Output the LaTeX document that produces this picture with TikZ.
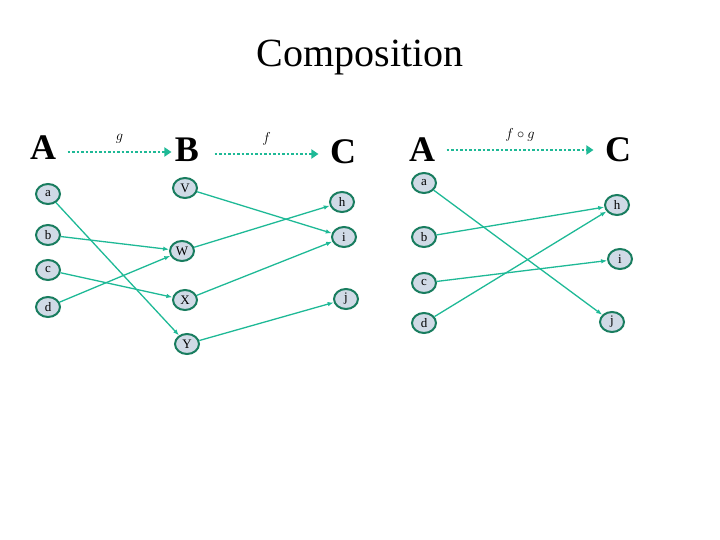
\documentclass[tikz,border=0pt]{standalone}
\usepackage{fontspec}
\setmainfont{Liberation Serif}
\usetikzlibrary{arrows.meta,shapes.geometric}
\definecolor{teal1}{RGB}{30,185,150}
\definecolor{ring}{RGB}{25,125,95}
\definecolor{pale}{RGB}{208,218,230}
\begin{document}
\begin{tikzpicture}[x=1pt,y=-1pt,
  elem/.style={ellipse,draw=ring,line width=2pt,fill=pale,minimum width=24pt,minimum height=20pt,inner sep=0pt,font=\fontsize{13}{13}\selectfont},
  set/.style={font=\fontsize{36}{36}\selectfont\bfseries},
  map/.style={draw=teal1,line width=1.3pt,-{Latex[length=6pt]}},
  fun/.style={draw=teal1,line width=2.5pt,dotted,-{Triangle[length=7pt,width=9pt]}}]
  \useasboundingbox (0,0) rectangle (720,540);
  \node[font=\fontsize{40}{40}\selectfont] (title) at (360,58) {Composition};
  % left: A --g--> B --f--> C
  \node[set] (A) at (43,148) {A};
  \node[set] (B) at (187,150) {B};
  \node[set] (C) at (343,152) {C};
  \draw[fun] (A.east) ++(8,4) coordinate (g0) -- (B.west |- g0) node[midway,above=4pt,font=\Large] {$g$};
  \draw[fun] (B.east) ++(12,4) coordinate (f0) -- ([xshift=-8pt]C.west |- f0) node[midway,above=4pt,font=\Large] {$f$};
  \node[elem] (a) at (48,194) {a};
  \node[elem] (b) at (48,235) {b};
  \node[elem] (c) at (48,270) {c};
  \node[elem] (d) at (48,307) {d};
  \node[elem] (V) at (185,188) {V};
  \node[elem] (W) at (182,251) {W};
  \node[elem] (X) at (185,300) {X};
  \node[elem] (Y) at (187,344) {Y};
  \node[elem] (h) at (342,202) {h};
  \node[elem] (i) at (344,237) {i};
  \node[elem] (j) at (346,299) {j};
  \draw[map] (a) -- (Y);
  \draw[map] (b) -- (W);
  \draw[map] (c) -- (X);
  \draw[map] (d) -- (W);
  \draw[map] (V) -- (i);
  \draw[map] (W) -- (h);
  \draw[map] (X) -- (i);
  \draw[map] (Y) -- (j);
  % right: A --f o g--> C
  \node[set] (A2) at (422,150) {A};
  \node[set] (C2) at (618,150) {C};
  \draw[fun] (A2.east) ++(8,0) coordinate (fg0) -- ([xshift=-8pt]C2.west |- fg0) node[midway,above=4pt,font=\Large] {$f\circ g$};
  \node[elem] (a2) at (424,183) {a};
  \node[elem] (b2) at (424,237) {b};
  \node[elem] (c2) at (424,283) {c};
  \node[elem] (d2) at (424,323) {d};
  \node[elem] (h2) at (617,205) {h};
  \node[elem] (i2) at (620,259) {i};
  \node[elem] (j2) at (612,322) {j};
  \draw[map] (a2) -- (j2);
  \draw[map] (b2) -- (h2);
  \draw[map] (c2) -- (i2);
  \draw[map] (d2) -- (h2);
\end{tikzpicture}
\end{document}
